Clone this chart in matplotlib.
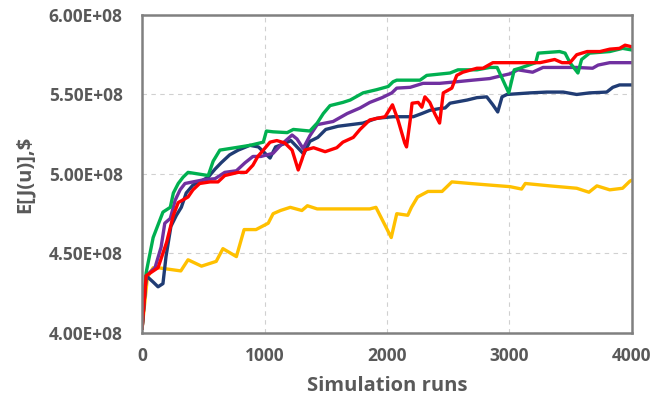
import matplotlib
matplotlib.use("Agg")
import matplotlib.pyplot as plt
from matplotlib.ticker import FuncFormatter
import numpy as np

# values, y in units of 1e8
yellow_x = [0, 43, 90, 130, 316, 375, 485, 605, 660, 770, 833, 930, 1030, 1070, 1130, 1210, 1305, 1350, 1430,
            1860, 1910, 2035, 2080, 2170, 2200, 2250, 2335, 2450, 2530, 2680, 2840, 3005, 3100, 3130, 3330,
            3550, 3650, 3715, 3820, 3925, 3985, 4000]
yellow_y = [4.03, 4.35, 4.41, 4.41, 4.39, 4.46, 4.42, 4.45, 4.53, 4.48, 4.65, 4.65, 4.69, 4.75, 4.77, 4.79, 4.77,
            4.80, 4.78, 4.78, 4.79, 4.60, 4.75, 4.74, 4.79, 4.855, 4.89, 4.89, 4.95, 4.94, 4.93, 4.92, 4.905,
            4.94, 4.925, 4.91, 4.885, 4.925, 4.90, 4.91, 4.955, 4.96]

navy_x = [0, 33, 90, 130, 170, 195, 235, 280, 320, 360, 415, 470, 540, 595, 645, 715, 785, 880, 950, 990,
          1045, 1090, 1160, 1215, 1265, 1320, 1370, 1435, 1500, 1600, 1805, 1915, 2050, 2215, 2285, 2350, 2420,
          2475, 2515, 2655, 2735, 2815, 2865, 2905, 2940, 2980, 3170, 3305, 3440, 3550, 3655, 3795, 3845, 3900, 4000]
navy_y = [4.03, 4.36, 4.32, 4.29, 4.31, 4.48, 4.67, 4.74, 4.79, 4.88, 4.93, 4.95, 4.98, 5.03, 5.07, 5.12, 5.15,
          5.18, 5.17, 5.14, 5.10, 5.17, 5.19, 5.21, 5.17, 5.125, 5.205, 5.23, 5.28, 5.30, 5.32, 5.35, 5.36, 5.36,
          5.38, 5.40, 5.41, 5.415, 5.445, 5.465, 5.48, 5.485, 5.435, 5.39, 5.485, 5.50, 5.51, 5.515, 5.515, 5.50,
          5.51, 5.515, 5.545, 5.56, 5.56]

purple_x = [0, 33, 105, 155, 185, 230, 270, 310, 350, 415, 515, 595, 675, 770, 840, 905, 970, 1070, 1130, 1225,
            1265, 1315, 1370, 1430, 1560, 1675, 1780, 1860, 1960, 2040, 2080, 2190, 2295, 2430, 2570, 2700, 2840,
            2920, 3005, 3070, 3190, 3275, 3550, 3680, 3725, 3820, 4000]
purple_y = [4.03, 4.36, 4.41, 4.54, 4.69, 4.72, 4.835, 4.90, 4.94, 4.95, 4.965, 4.97, 5.01, 5.02, 5.07, 5.11,
            5.11, 5.13, 5.18, 5.245, 5.22, 5.16, 5.24, 5.31, 5.33, 5.38, 5.415, 5.45, 5.48, 5.51, 5.54, 5.545,
            5.57, 5.57, 5.58, 5.59, 5.60, 5.615, 5.63, 5.655, 5.64, 5.67, 5.67, 5.665, 5.685, 5.70, 5.70]

green_x = [0, 33, 90, 170, 230, 255, 295, 335, 375, 540, 580, 635, 800, 880, 990, 1015, 1070, 1185, 1235, 1370,
           1430, 1480, 1535, 1640, 1700, 1805, 1915, 2010, 2050, 2080, 2270, 2325, 2515, 2580, 2735, 2840, 2900,
           2995, 3040, 3085, 3215, 3235, 3410, 3455, 3495, 3560, 3590, 3655, 3820, 3925, 4000]
green_y = [4.03, 4.38, 4.60, 4.76, 4.79, 4.88, 4.94, 4.98, 5.01, 4.99, 5.08, 5.15, 5.17, 5.18, 5.20, 5.27, 5.265,
           5.26, 5.28, 5.27, 5.32, 5.38, 5.43, 5.45, 5.465, 5.51, 5.53, 5.55, 5.58, 5.59, 5.59, 5.62, 5.635, 5.655,
           5.655, 5.67, 5.67, 5.51, 5.655, 5.665, 5.70, 5.76, 5.77, 5.76, 5.70, 5.635, 5.72, 5.76, 5.77, 5.79, 5.78]

red_x = [0, 33, 130, 200, 255, 295, 375, 415, 470, 555, 620, 675, 785, 850, 905, 945, 990, 1045, 1100, 1165,
         1225, 1275, 1305, 1330, 1400, 1495, 1590, 1640, 1725, 1780, 1860, 1985, 2045, 2090, 2145, 2160, 2190,
         2205, 2255, 2285, 2310, 2350, 2390, 2430, 2460, 2530, 2570, 2620, 2735, 2785, 2865, 3110, 3250, 3370,
         3430, 3495, 3550, 3635, 3740, 3820, 3900, 3945, 4000]
red_y = [4.03, 4.36, 4.41, 4.57, 4.74, 4.82, 4.855, 4.90, 4.94, 4.95, 4.95, 4.99, 5.01, 5.01, 5.055, 5.11, 5.15,
         5.20, 5.21, 5.195, 5.15, 5.025, 5.09, 5.15, 5.165, 5.14, 5.165, 5.20, 5.23, 5.28, 5.34, 5.36, 5.435,
         5.34, 5.195, 5.17, 5.34, 5.445, 5.45, 5.42, 5.485, 5.45, 5.38, 5.32, 5.51, 5.54, 5.62, 5.64, 5.665,
         5.665, 5.70, 5.70, 5.70, 5.72, 5.70, 5.70, 5.75, 5.77, 5.77, 5.785, 5.79, 5.81, 5.80]

series = [(yellow_x, yellow_y, '#FFC000'),
          (navy_x, navy_y, '#203C74'),
          (purple_x, purple_y, '#7030A0'),
          (green_x, green_y, '#00B050'),
          (red_x, red_y, '#FF0000')]

plt.rcParams['font.family'] = ['Open Sans', 'DejaVu Sans']
txt = '#595959'

fig = plt.figure(figsize=(6.52, 4.05), dpi=100)
ax = fig.add_axes([0.218, 0.178, 0.751, 0.785])

for xs, ys, c in series:
    ax.plot(xs, np.array(ys) * 1e8, color=c, lw=2.4, solid_joinstyle='round')

ax.set_xlim(0, 4000)
ax.set_ylim(4.0e8, 6.0e8)
ax.set_xticks([0, 1000, 2000, 3000, 4000])
ax.set_yticks(np.arange(4.0e8, 6.01e8, 0.5e8))
ax.yaxis.set_major_formatter(FuncFormatter(lambda v, p: '%.2E' % v))
ax.grid(True, color='#d0d0d0', ls=(0, (4, 4)), lw=0.8)
ax.tick_params(length=0, labelsize=12.5, labelcolor=txt)
ax.tick_params(axis='x', pad=10)
ax.tick_params(axis='y', pad=14)
for lab in ax.get_xticklabels() + ax.get_yticklabels():
    lab.set_fontweight('bold')

for s in ax.spines.values():
    s.set_color('#808080')
    s.set_linewidth(1.8)

ax.set_xlabel('Simulation runs', fontsize=14.5, fontweight='bold', color=txt, labelpad=8)
ax.set_ylabel('E[J(u)],$', fontsize=14.5, fontweight='bold', color=txt, labelpad=10)

fig.savefig('out.png', dpi=100)
